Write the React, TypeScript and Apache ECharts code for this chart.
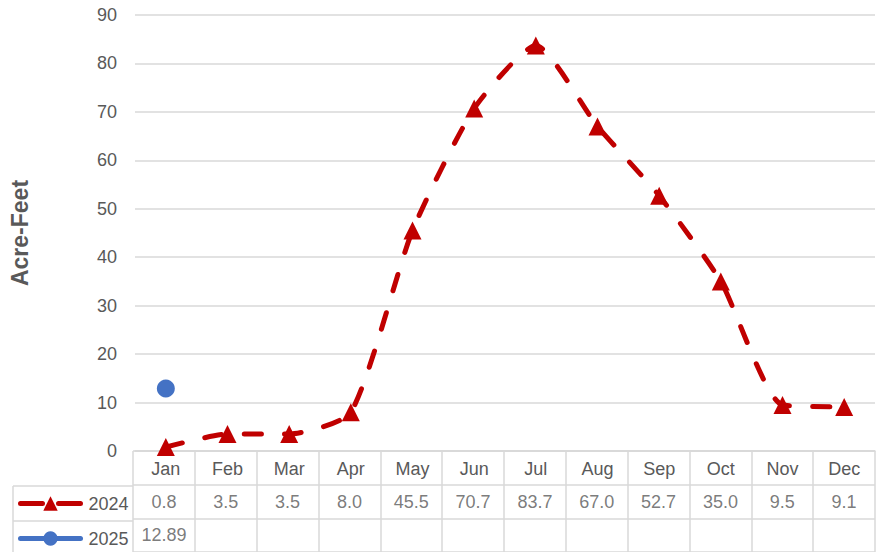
import React, { useEffect, useRef } from "react";
import * as echarts from "echarts";

const months = ["Jan", "Feb", "Mar", "Apr", "May", "Jun", "Jul", "Aug", "Sep", "Oct", "Nov", "Dec"];
const values2024 = [0.8, 3.5, 3.5, 8.0, 45.5, 70.7, 83.7, 67.0, 52.7, 35.0, 9.5, 9.1];
const values2025: (number | null)[] = [12.89, null, null, null, null, null, null, null, null, null, null, null];
const tableRows = ["", "2024", "2025"];
const yTicks = { min: 0, max: 90, interval: 10 };

const TEXT = "#595959";
const GRID_LINE = "#d9d9d9";
const RED = "#C00000";
const BLUE = "#4472C4";
const FONT = "Liberation Sans";

const PLOT_LEFT = 133;
const PLOT_RIGHT = 5;
const PLOT_TOP = 15;
const TABLE_TOP = 451;
const ROW_H = 35;
const LEGEND_CELL_LEFT = 13;

export default function App() {
  const ref = useRef<HTMLDivElement>(null);

  useEffect(() => {
    if (!ref.current) return;
    const chart = echarts.init(ref.current, undefined, { renderer: "svg" });

    const cells2024 = values2024.map((v, i) => ({ value: [i, 1], label: { formatter: v.toFixed(1) } }));
    const cells2025 = values2025
      .map((v, i) => (v == null ? null : { value: [i, 2], label: { formatter: v.toFixed(2) } }))
      .filter((d) => d != null);

    // Borders of the legend column to the left of the data table
    const tableBottom = TABLE_TOP + ROW_H * tableRows.length;
    const legendCellLines: any[] = [];
    for (let r = 1; r <= tableRows.length; r++) {
      const y = TABLE_TOP + ROW_H * r;
      legendCellLines.push({
        type: "line",
        shape: { x1: LEGEND_CELL_LEFT, y1: y, x2: PLOT_LEFT, y2: y },
        style: { stroke: GRID_LINE, lineWidth: 1.5 },
        silent: true,
      });
    }
    legendCellLines.push({
      type: "line",
      shape: { x1: LEGEND_CELL_LEFT, y1: TABLE_TOP + ROW_H, x2: LEGEND_CELL_LEFT, y2: tableBottom },
      style: { stroke: GRID_LINE, lineWidth: 1.5 },
      silent: true,
    });

    const legendBox = 18;

    chart.setOption({
      animation: false,
      textStyle: { fontFamily: FONT },
      grid: [
        { left: PLOT_LEFT, right: PLOT_RIGHT, top: PLOT_TOP, bottom: 552 - TABLE_TOP },
        { left: PLOT_LEFT, right: PLOT_RIGHT, top: TABLE_TOP, height: ROW_H * tableRows.length },
      ],
      xAxis: [
        {
          type: "category",
          gridIndex: 0,
          data: months,
          boundaryGap: true,
          axisLine: { lineStyle: { color: GRID_LINE, width: 1.5 } },
          axisTick: { show: false },
          axisLabel: { color: TEXT, fontSize: 18, fontFamily: FONT, margin: 9, interval: 0 },
        },
        {
          type: "category",
          gridIndex: 1,
          data: months,
          boundaryGap: true,
          axisLine: { show: false },
          axisTick: { show: false },
          axisLabel: { show: false },
          splitLine: { show: true, interval: 0, lineStyle: { color: GRID_LINE, width: 1.5 } },
        },
      ],
      yAxis: [
        {
          type: "value",
          gridIndex: 0,
          min: yTicks.min,
          max: yTicks.max,
          interval: yTicks.interval,
          name: "Acre-Feet",
          nameLocation: "middle",
          nameRotate: 90,
          nameGap: 104,
          nameTextStyle: { color: TEXT, fontSize: 23, fontWeight: "bold", fontFamily: FONT },
          axisLine: { show: false },
          axisTick: { show: false },
          axisLabel: { color: TEXT, fontSize: 18, fontFamily: FONT, margin: 18 },
          splitLine: { lineStyle: { color: GRID_LINE, width: 1.5 } },
        },
        {
          type: "category",
          gridIndex: 1,
          data: tableRows,
          inverse: true,
          boundaryGap: true,
          axisLine: { show: false },
          axisTick: { show: false },
          axisLabel: { show: false },
          splitLine: { show: true, interval: 0, lineStyle: { color: GRID_LINE, width: 1.5 } },
        },
      ],
      legend: {
        data: [
          { name: "2024", lineStyle: { width: 5, type: [22, 16], cap: "round" } },
          { name: "2025", lineStyle: { width: 5, type: "solid", cap: "round" } },
        ],
        orient: "vertical",
        left: 18,
        top: TABLE_TOP + ROW_H + (ROW_H - legendBox) / 2,
        padding: 0,
        itemWidth: 60,
        itemHeight: legendBox,
        itemGap: ROW_H - legendBox,
        textStyle: { color: TEXT, fontSize: 18, fontFamily: FONT, padding: [0, 0, 0, 3] },
        selectedMode: false,
      },
      graphic: legendCellLines,
      series: [
        {
          name: "2024",
          type: "line",
          xAxisIndex: 0,
          yAxisIndex: 0,
          data: values2024,
          smooth: 0.2,
          symbol: "triangle",
          symbolSize: 18,
          itemStyle: { color: RED },
          lineStyle: { color: RED, width: 5, type: [17, 23], cap: "round" },
          z: 3,
        },
        {
          name: "2025",
          type: "line",
          xAxisIndex: 0,
          yAxisIndex: 0,
          data: values2025,
          symbol: "circle",
          symbolSize: 18,
          itemStyle: { color: BLUE },
          lineStyle: { color: BLUE, width: 5 },
          z: 4,
        },
        {
          name: "table2024",
          type: "scatter",
          xAxisIndex: 1,
          yAxisIndex: 1,
          symbolSize: 0,
          data: cells2024,
          label: { show: true, position: "inside", color: TEXT, fontSize: 18, fontFamily: FONT },
          silent: true,
        },
        {
          name: "table2025",
          type: "scatter",
          xAxisIndex: 1,
          yAxisIndex: 1,
          symbolSize: 0,
          data: cells2025,
          label: { show: true, position: "inside", color: TEXT, fontSize: 18, fontFamily: FONT },
          silent: true,
        },
      ],
    });

    return () => chart.dispose();
  }, []);

  return (
    <div
      ref={ref}
      style={{ position: "absolute", left: 0, top: 0, width: 880, height: 552, background: "#ffffff" }}
    />
  );
}
